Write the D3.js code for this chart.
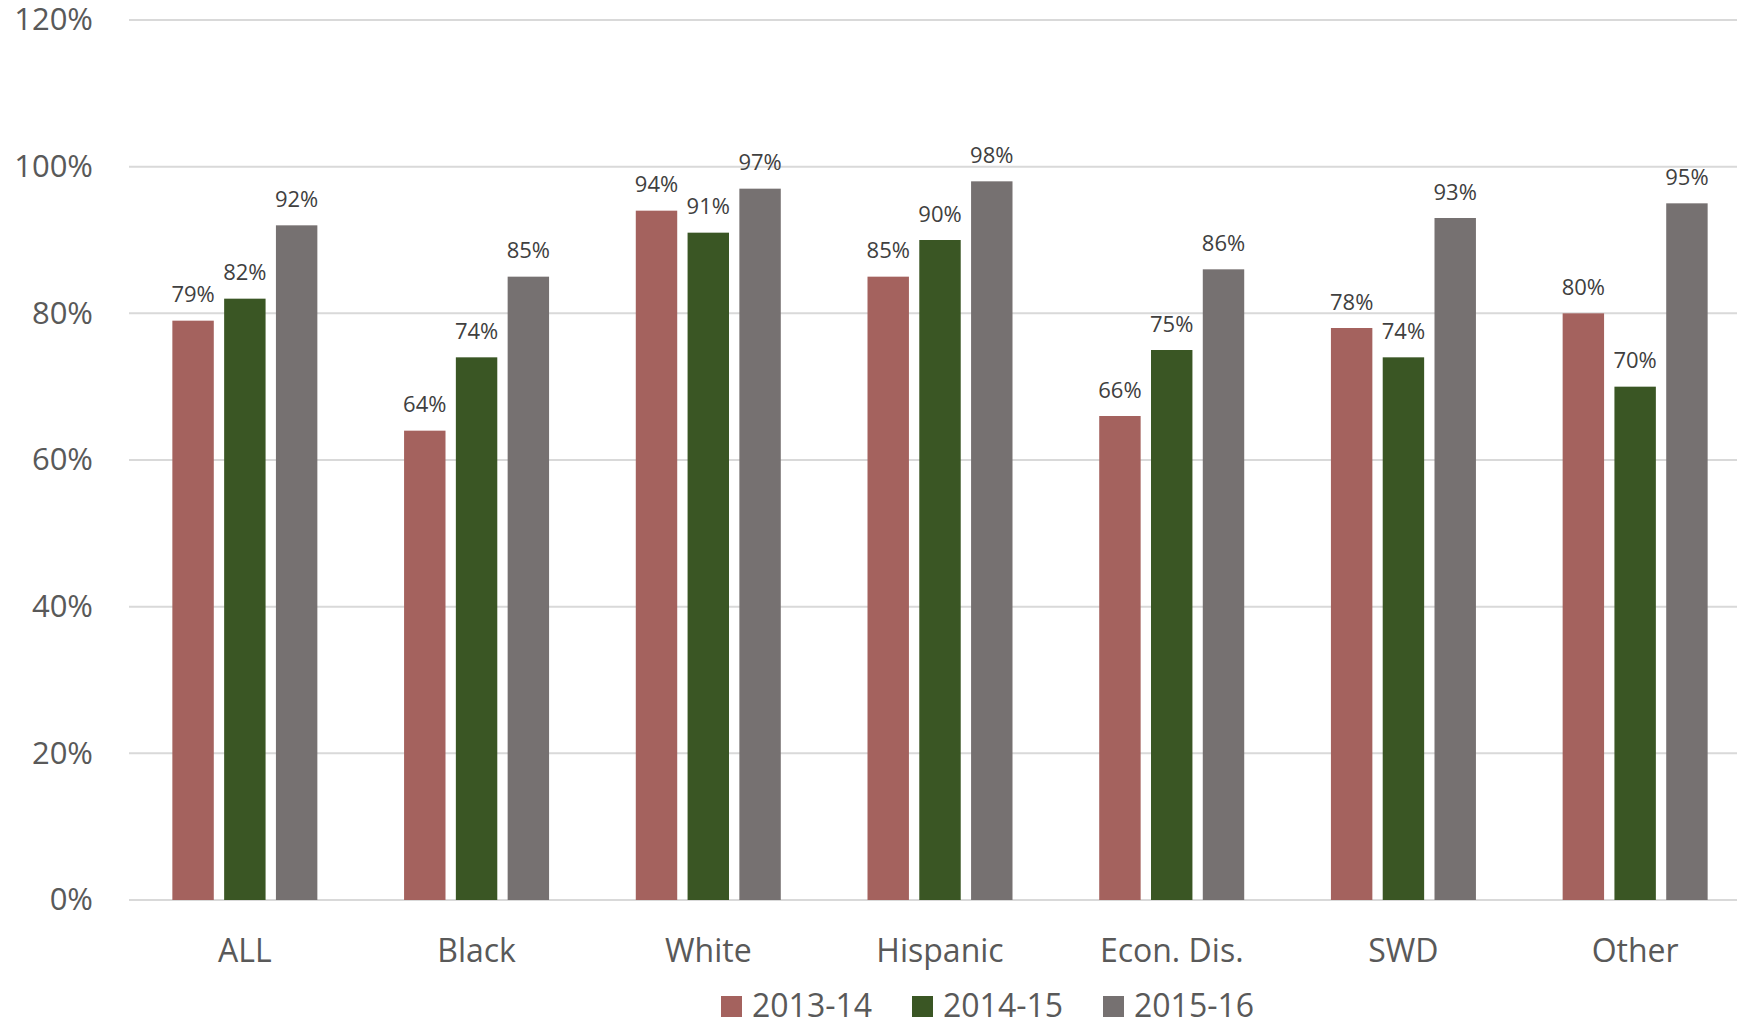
<!DOCTYPE html>
<html>
<head>
<meta charset="utf-8">
<script src="https://cdn.jsdelivr.net/npm/d3@7"></script>
<style>
html,body{margin:0;padding:0;background:#fff;}
svg{display:block;}
text{font-family:"Open Sans",sans-serif;}
</style>
</head>
<body>
<svg id="chart" width="1737" height="1022"></svg>
<script>
const categories = ["ALL", "Black", "White", "Hispanic", "Econ. Dis.", "SWD", "Other"];
const seriesNames = ["2013-14", "2014-15", "2015-16"];
const values2013 = [79, 64, 94, 85, 66, 78, 80];
const values2014 = [82, 74, 91, 90, 75, 74, 70];
const values2015 = [92, 85, 97, 98, 86, 93, 95];
const colors = ["#A4625E", "#3A5624", "#767171"];
const yTicks = [0, 20, 40, 60, 80, 100, 120];

const seriesValues = [values2013, values2014, values2015];
const FONT = "'Open Sans',sans-serif";
const svg = d3.select("#chart");

const x = d3.scaleBand().domain(categories).range([129, 1751]).paddingInner(0).paddingOuter(0);
const y = d3.scaleLinear().domain([0, 120]).range([900, 20]);
const groupW = 145;
const x1 = d3.scaleBand().domain(seriesNames).range([0, groupW]).paddingInner(0.2).paddingOuter(0);

// gridlines
svg.append("g").selectAll("line").data(yTicks).join("line")
  .attr("x1", 129).attr("x2", 1737)
  .attr("y1", d => y(d)).attr("y2", d => y(d))
  .attr("stroke", "#D9D9D9").attr("stroke-width", 2);

// y axis labels
const yAxis = d3.axisLeft(y).tickValues(yTicks).tickFormat(d => d + "%").tickSize(0).tickPadding(0);
const ya = svg.append("g").attr("transform", "translate(93,0)").call(yAxis);
ya.select(".domain").remove();
ya.selectAll("text").attr("font-size", 31).attr("fill", "#595959")
  .style("font-family", FONT);

// bars
const groups = svg.append("g").selectAll("g").data(categories).join("g")
  .attr("transform", d => `translate(${x(d) + (x.bandwidth() - groupW) / 2},0)`);

groups.each(function(cat, ci) {
  const g = d3.select(this);
  seriesNames.forEach((s, si) => {
    const v = seriesValues[si][ci];
    g.append("rect")
      .attr("x", x1(s)).attr("width", x1.bandwidth())
      .attr("y", y(v)).attr("height", y(0) - y(v))
      .attr("fill", colors[si]);
    g.append("text")
      .attr("x", x1(s) + x1.bandwidth() / 2)
      .attr("y", y(v) - 18.5)
      .attr("text-anchor", "middle")
      .attr("font-size", 22).attr("fill", "#404040")
      .text(v + "%");
  });
});

// x axis labels
const xAxis = d3.axisBottom(x).tickSize(0).tickPadding(0);
const xa = svg.append("g").attr("transform", "translate(0,962)").call(xAxis);
xa.select(".domain").remove();
xa.selectAll("text").attr("font-size", 32).attr("fill", "#595959").attr("dy", 0)
  .style("font-family", FONT);

// legend
const legendX = [721, 912, 1103];
const legend = svg.append("g").selectAll("g").data(seriesNames).join("g")
  .attr("transform", (d, i) => `translate(${legendX[i]},0)`);
legend.append("rect").attr("x", 0).attr("y", 996).attr("width", 21).attr("height", 21)
  .attr("fill", (d, i) => colors[i]);
legend.append("text").attr("x", 31).attr("y", 1017).attr("font-size", 32).attr("fill", "#595959")
  .text(d => d);
</script>
</body>
</html>
